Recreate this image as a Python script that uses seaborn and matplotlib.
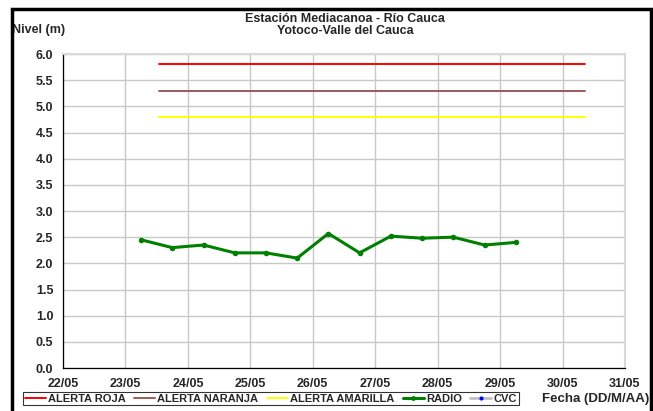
import matplotlib
matplotlib.use("Agg")
import matplotlib.pyplot as plt
import matplotlib.dates as mdates
from matplotlib.lines import Line2D
from matplotlib.patches import Rectangle
import seaborn as sns
import pandas as pd

# ---- data ----
fechas_radio = ["2023-05-23 06:00", "2023-05-23 18:00", "2023-05-24 06:00", "2023-05-24 18:00",
                "2023-05-25 06:00", "2023-05-25 18:00", "2023-05-26 06:00", "2023-05-26 18:00",
                "2023-05-27 06:00", "2023-05-27 18:00", "2023-05-28 06:00", "2023-05-28 18:00",
                "2023-05-29 06:00"]
nivel_radio = [2.45, 2.30, 2.35, 2.20, 2.20, 2.10, 2.57, 2.20, 2.52, 2.48, 2.50, 2.35, 2.40]

fechas_alerta = ["2023-05-23 13:00", "2023-05-30 08:30"]
alerta_roja = [5.8, 5.8]
alerta_naranja = [5.3, 5.3]
alerta_amarilla = [4.8, 4.8]

x_ticks = ["2023-05-22", "2023-05-23", "2023-05-24", "2023-05-25", "2023-05-26",
           "2023-05-27", "2023-05-28", "2023-05-29", "2023-05-30", "2023-05-31"]
y_ticks = [0.0, 0.5, 1.0, 1.5, 2.0, 2.5, 3.0, 3.5, 4.0, 4.5, 5.0, 5.5, 6.0]

titulo = "Estación Mediacanoa - Río Cauca\nYotoco-Valle del Cauca"

# ---- frames ----
df_radio = pd.DataFrame({"fecha": pd.to_datetime(fechas_radio), "nivel": nivel_radio})
df_alerta = pd.DataFrame({"fecha": pd.to_datetime(fechas_alerta),
                          "roja": alerta_roja, "naranja": alerta_naranja,
                          "amarilla": alerta_amarilla})

sns.set_style("white")
plt.rcParams["font.family"] = ["Liberation Sans", "DejaVu Sans"]
plt.rcParams["font.weight"] = "bold"

W, H = 653, 411
fig = plt.figure(figsize=(W / 100, H / 100), dpi=100)
ax = fig.add_axes([63 / W, 1 - 368 / H, (625 - 63) / W, (368 - 54) / H])

c_roja = "#FF0000"
c_naranja = "#A05A5A"
c_amarilla = "#FFFF00"
c_radio = "#008000"

sns.lineplot(data=df_alerta, x="fecha", y="roja", ax=ax, color=c_roja, lw=1.4)
sns.lineplot(data=df_alerta, x="fecha", y="naranja", ax=ax, color=c_naranja, lw=1.4)
sns.lineplot(data=df_alerta, x="fecha", y="amarilla", ax=ax, color=c_amarilla, lw=1.4)
sns.lineplot(data=df_radio, x="fecha", y="nivel", ax=ax, color=c_radio, lw=2.2,
             marker="o", markersize=4, markeredgewidth=0)

ax.set_xlim(pd.Timestamp(x_ticks[0]), pd.Timestamp(x_ticks[-1]))
ax.set_ylim(0, 6)
ax.set_xticks(pd.to_datetime(x_ticks))
ax.xaxis.set_major_formatter(mdates.DateFormatter("%d/%m"))
ax.set_yticks(y_ticks)
ax.set_yticklabels([f"{v:.1f}" for v in y_ticks])
ax.set_xlabel("")
ax.set_ylabel("")

ax.grid(True, color="#C8C8C8", lw=1.0)
ax.tick_params(axis="both", labelsize=9, length=4, width=0.8, color="black",
               direction="out", pad=3)
for lab in ax.get_xticklabels() + ax.get_yticklabels():
    lab.set_fontweight("bold")
ax.spines["left"].set_color("black")
ax.spines["bottom"].set_color("black")
ax.spines["left"].set_linewidth(0.9)
ax.spines["bottom"].set_linewidth(0.9)
ax.spines["top"].set_color("#D9D9D9")
ax.spines["right"].set_color("#D9D9D9")
ax.spines["top"].set_linewidth(1.5)
ax.spines["right"].set_linewidth(1.5)

# texts
fig.text(345 / W, 1 - 25 / H, titulo, ha="center", va="center", fontsize=9,
         fontweight="bold", linespacing=1.1)
fig.text(12 / W, 1 - 30 / H, "Nivel (m)", ha="left", va="center", fontsize=9,
         fontweight="bold")
fig.text(596 / W, 1 - 399 / H, "Fecha (DD/M/AA)", ha="center", va="center",
         fontsize=9.5, fontweight="bold")

# legend
handles = [
    Line2D([], [], color=c_roja, lw=1.4),
    Line2D([], [], color=c_naranja, lw=1.4),
    Line2D([], [], color=c_amarilla, lw=1.4),
    Line2D([], [], color=c_radio, lw=2.2, marker="o", markersize=3.5, markeredgewidth=0),
    Line2D([], [], color="#C0C0C0", lw=2.0, marker="o", markersize=3,
           markerfacecolor="#0000FF", markeredgewidth=0),
]
labels = ["ALERTA ROJA", "ALERTA NARANJA", "ALERTA AMARILLA", "RADIO", "CVC"]
leg = fig.legend(handles, labels, loc="center left", bbox_to_anchor=(23 / W, 1 - 398.5 / H),
                 ncol=5, fontsize=8, frameon=True, fancybox=False, handlelength=1.9,
                 handletextpad=0.2, columnspacing=0.75, borderpad=0.15, borderaxespad=0)
leg.get_frame().set_edgecolor("black")
leg.get_frame().set_linewidth(0.8)
for t in leg.get_texts():
    t.set_fontweight("bold")

# outer chart border
fig.patches.append(Rectangle((12 / W, -0.05), (651 - 12) / W, 1.05 - 9 / H,
                             transform=fig.transFigure, fill=False, ec="black",
                             lw=2.5, zorder=10))

fig.savefig("out.png", dpi=100)
